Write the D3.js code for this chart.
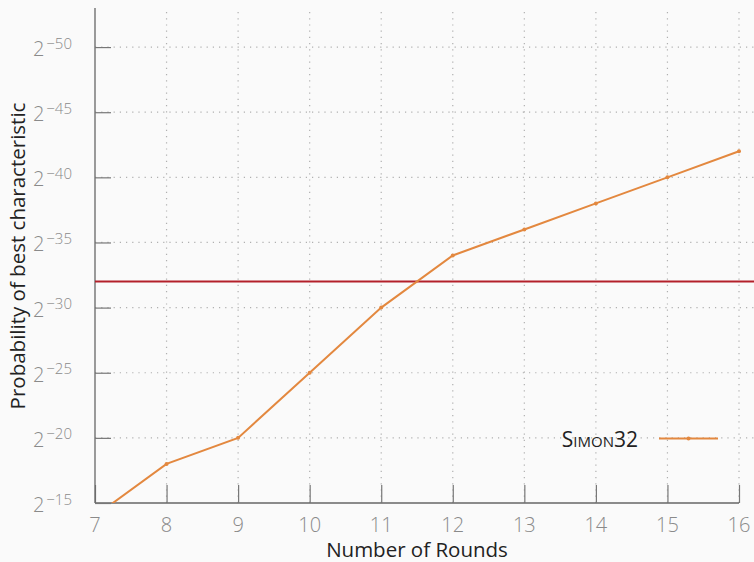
<!DOCTYPE html>
<html>
<head>
<meta charset="utf-8">
<script src="https://cdn.jsdelivr.net/npm/d3@7"></script>
<style>
  html, body { margin: 0; padding: 0; background: #fafafa; }
  svg { display: block; font-family: "Open Sans", "Noto Sans", sans-serif; }
</style>
</head>
<body>
<svg id="chart" width="754" height="562"></svg>
<script>
// Data
const rounds = [7, 8, 9, 10, 11, 12, 13, 14, 15, 16];
const simon32 = [14, 18, 20, 25, 30, 34, 36, 38, 40, 42]; // -log2 probability
const threshold = 32;
const xTicks = [7, 8, 9, 10, 11, 12, 13, 14, 15, 16];
const yTicks = [15, 20, 25, 30, 35, 40, 45, 50];
const seriesName = "Simon32";

(function () {
const svg = d3.select("#chart");
const mLeft = 95, mRight = 739, mBottom = 503, mTop = 8;

const x = d3.scaleLinear().domain([7, 16]).range([mLeft, mRight]);
const y = d3.scaleLinear().domain([15, 53]).range([mBottom, mTop]);

const grid = "#b0b0b0";
svg.append("defs").append("clipPath").attr("id", "clip")
  .append("rect").attr("x", mLeft).attr("y", mTop).attr("width", mRight - mLeft + 2).attr("height", mBottom - mTop);

// gridlines
svg.append("g").selectAll("line").data(xTicks.slice(1)).join("line")
  .attr("x1", d => x(d)).attr("x2", d => x(d)).attr("y1", mBottom).attr("y2", mTop)
  .attr("stroke", grid).attr("stroke-width", 1.2).attr("stroke-dasharray", "1.2,5");
svg.append("g").selectAll("line").data(yTicks.slice(1)).join("line")
  .attr("x1", mLeft).attr("x2", mRight + 15).attr("y1", d => y(d)).attr("y2", d => y(d))
  .attr("stroke", grid).attr("stroke-width", 1.2).attr("stroke-dasharray", "1.2,5");

// axes
const xAxis = d3.axisBottom(x).tickValues(xTicks).tickSize(-18).tickFormat("");
const gx = svg.append("g").attr("transform", `translate(0,${mBottom})`).call(xAxis);
gx.select(".domain").attr("stroke", "#666").attr("stroke-width", 1.3).attr("d", `M${mLeft},0H${mRight}`);
gx.selectAll(".tick line").attr("stroke", "#777").attr("stroke-width", 1.2);

const yAxis = d3.axisLeft(y).tickValues(yTicks).tickSize(-16).tickFormat("");
const gy = svg.append("g").attr("transform", `translate(${mLeft},0)`).call(yAxis);
gy.select(".domain").attr("stroke", "#666").attr("stroke-width", 1.3).attr("d", `M0,${mBottom}V${mTop}`);
gy.selectAll(".tick line").attr("stroke", "#777").attr("stroke-width", 1.2);

// x tick labels
svg.append("g").selectAll("text").data(xTicks).join("text")
  .attr("x", d => x(d)).attr("y", 531.5)
  .attr("text-anchor", "middle").attr("font-size", 20).attr("font-weight", 300)
  .attr("fill", "#8a8a8a").text(d => d);

// y tick labels: 2^{-n}
const yl = svg.append("g").selectAll("text").data(yTicks).join("text")
  .attr("x", 72).attr("y", d => y(d) + 9)
  .attr("text-anchor", "end").attr("font-size", 20).attr("font-weight", 300).attr("fill", "#8a8a8a");
yl.append("tspan").text("2");
yl.append("tspan").attr("dx", 2).attr("dy", -7.5).attr("font-size", 15).text(d => "\u2212" + d);

// threshold line
svg.append("line").attr("x1", mLeft).attr("x2", 754)
  .attr("y1", y(threshold)).attr("y2", y(threshold))
  .attr("stroke", "#b3202a").attr("stroke-width", 2);

// series line
const line = d3.line().x((d, i) => x(rounds[i])).y(d => y(d));
const gs = svg.append("g").attr("clip-path", "url(#clip)");
gs.append("path").datum(simon32).attr("d", line)
  .attr("fill", "none").attr("stroke", "#e3883f").attr("stroke-width", 2);
gs.selectAll("circle").data(simon32).join("circle")
  .attr("cx", (d, i) => x(rounds[i])).attr("cy", d => y(d)).attr("r", 2)
  .attr("fill", "#e3883f");

// legend
svg.append("text").attr("x", 638).attr("y", 447).attr("text-anchor", "end")
  .attr("font-size", 21).attr("font-weight", 400).attr("fill", "#222")
  .style("font-variant", "small-caps").text(seriesName);
svg.append("line").attr("x1", 659).attr("x2", 718).attr("y1", 438.5).attr("y2", 438.5)
  .attr("stroke", "#e3883f").attr("stroke-width", 2);
svg.append("circle").attr("cx", 688.5).attr("cy", 438.5).attr("r", 2).attr("fill", "#e3883f");

// axis titles
svg.append("text").attr("x", (mLeft + mRight) / 2).attr("y", 557).attr("text-anchor", "middle")
  .attr("font-size", 20.5).attr("font-weight", 400).attr("fill", "#222").text("Number of Rounds");
svg.append("text").attr("transform", `translate(25,256) rotate(-90)`).attr("text-anchor", "middle")
  .attr("font-size", 20.5).attr("font-weight", 400).attr("fill", "#222").text("Probability of best characteristic");
})();
</script>
</body>
</html>
